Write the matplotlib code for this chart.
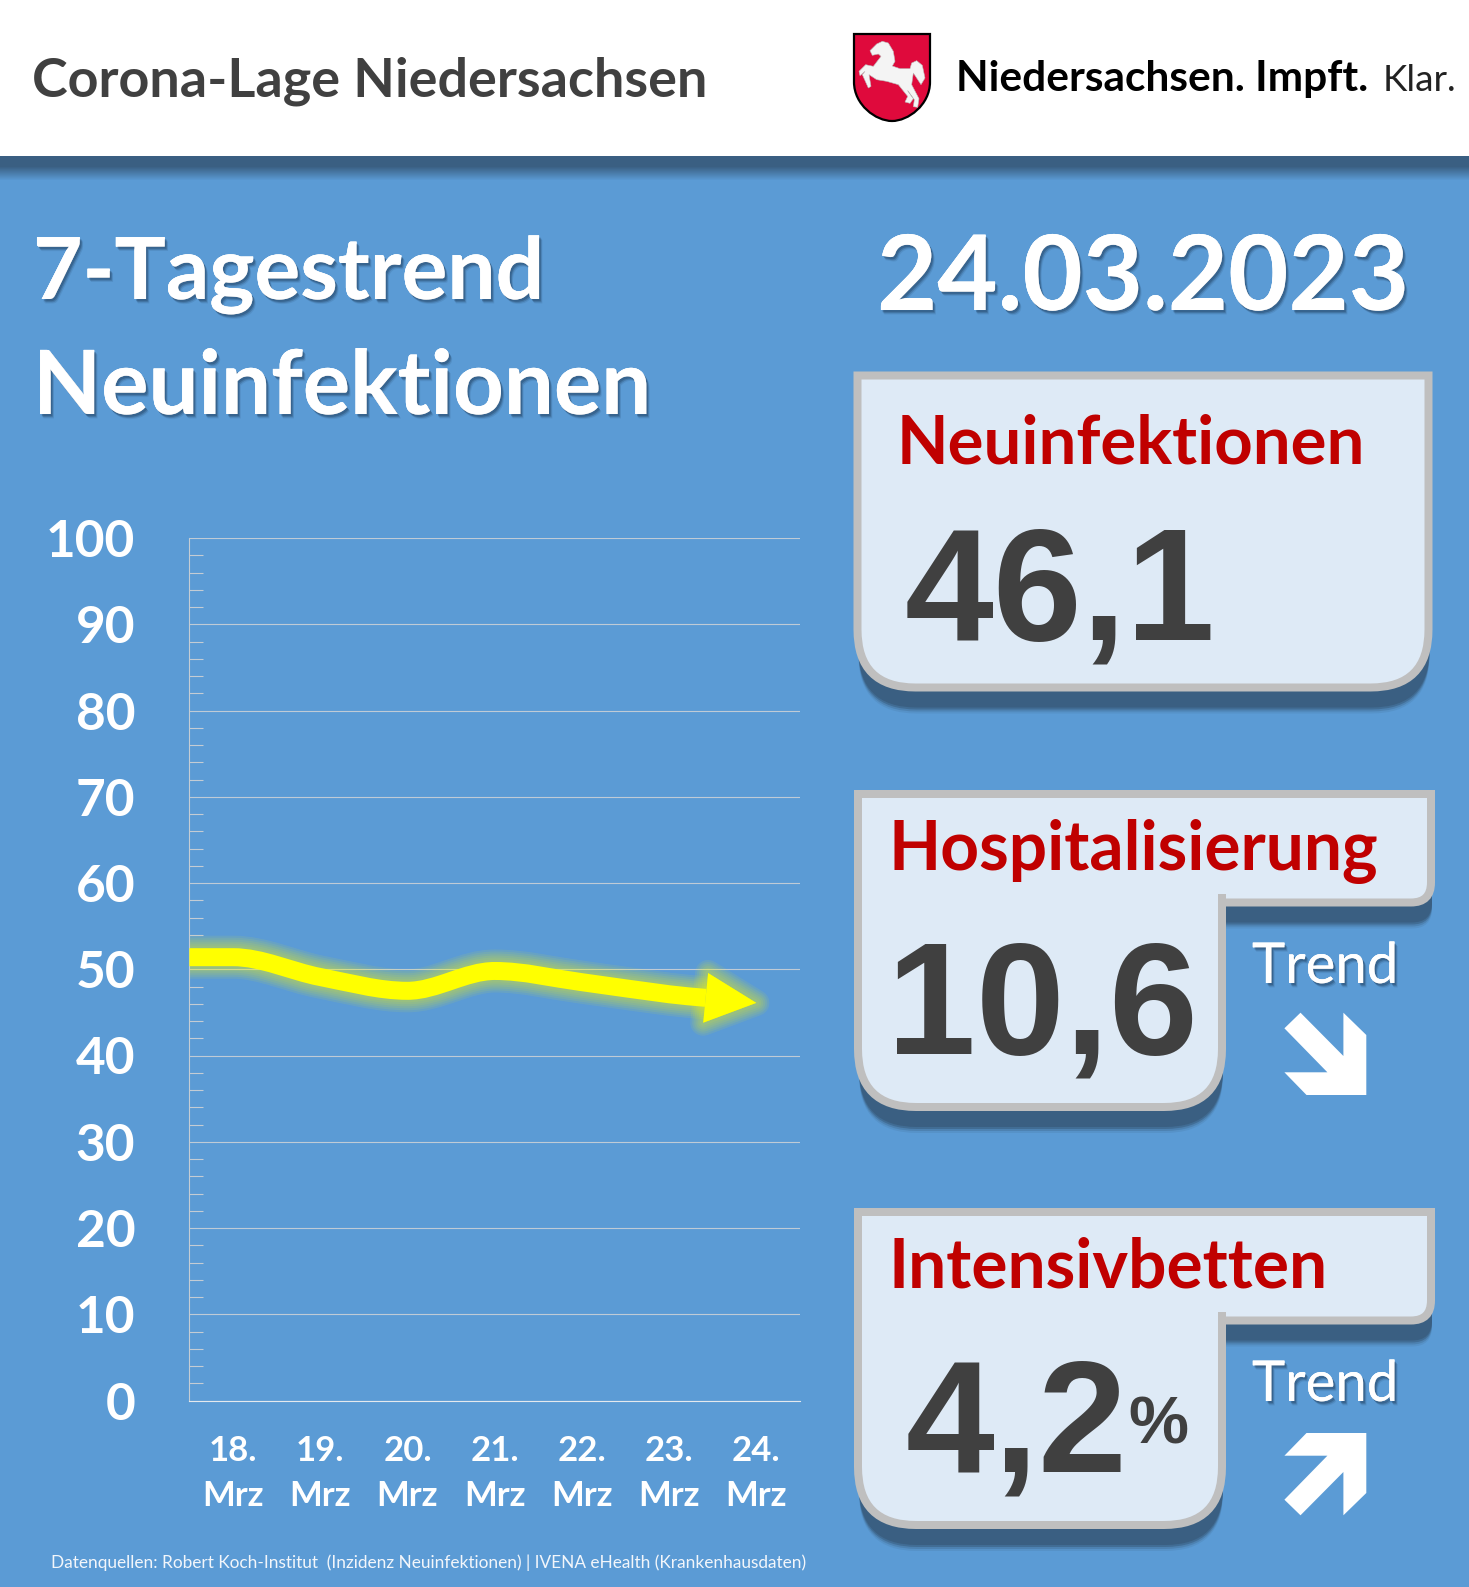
import numpy as np
import matplotlib
matplotlib.use("Agg")
import matplotlib.pyplot as plt
import matplotlib.patheffects as pe
from matplotlib.path import Path
from matplotlib.patches import PathPatch, Polygon, Rectangle
from matplotlib.ticker import MultipleLocator

W, H = 1469, 1587
BLAU = '#5B9BD5'
DUNKEL = '#3A5F82'
ROT = '#C00000'
GRAU = '#404040'
RAHMEN = '#BFBFBF'
FUELLUNG = '#DEEAF6'

# 7-Tage-Inzidenz
tage = ['18.\nMrz', '19.\nMrz', '20.\nMrz', '21.\nMrz', '22.\nMrz', '23.\nMrz', '24.\nMrz']
werte = [51.4, 49.1, 47.5, 49.8, 48.5, 47.1, 46.1]

fig = plt.figure(figsize=(W / 100, H / 100), dpi=100, facecolor=BLAU)
bg = fig.add_axes([0, 0, 1, 1], zorder=0)
bg.set_xlim(0, W)
bg.set_ylim(H, 0)
bg.axis('off')
renderer = fig.canvas.get_renderer()

schatten_fx = [pe.withSimplePatchShadow(offset=(2.4, -3.2), shadow_rgbFace='#1F3D5C', alpha=.12),
               pe.withSimplePatchShadow(offset=(1.8, -2.4), shadow_rgbFace='#1F3D5C', alpha=.25),
               pe.withSimplePatchShadow(offset=(1.2, -1.6), shadow_rgbFace='#1F3D5C', alpha=.35)]


def text(x, y, s, breite, color='white', weight='bold', family='Lato', schatten=False):
    # Schriftgroesse so waehlen, dass der Text die Breite aus der Vorlage hat
    t = bg.text(x, y, s, fontsize=40, color=color, weight=weight, family=family, va='baseline', ha='left', zorder=6)
    t.set_fontsize(40 * breite / t.get_window_extent(renderer).width)
    if schatten:
        t.set_path_effects(schatten_fx)
    return t


def kasten(l, t, r, b, rb=58, kerbe=None, ub=None, ru=20):
    if kerbe is None:
        verts = [(l, t), (r, t), (r, b - rb), (r, b), (r - rb, b), (l + rb, b), (l, b), (l, b - rb), (l, t)]
        codes = [Path.MOVETO, Path.LINETO, Path.LINETO, Path.CURVE3, Path.CURVE3, Path.LINETO,
                 Path.CURVE3, Path.CURVE3, Path.CLOSEPOLY]
    else:
        verts = [(l, t), (r, t), (r, ub - ru), (r, ub), (r - ru, ub), (kerbe, ub), (kerbe, b - rb), (kerbe, b),
                 (kerbe - rb, b), (l + rb, b), (l, b), (l, b - rb), (l, t)]
        codes = [Path.MOVETO, Path.LINETO, Path.LINETO, Path.CURVE3, Path.CURVE3, Path.LINETO, Path.LINETO,
                 Path.CURVE3, Path.CURVE3, Path.LINETO, Path.CURVE3, Path.CURVE3, Path.CLOSEPOLY]
    pfad = Path(verts, codes)
    # Schatten
    for d, a in [(26, .15), (24, .3), (22, .6), (20, 1)]:
        v = np.array(verts) + [1, d]
        bg.add_patch(PathPatch(Path(v, codes), fc=DUNKEL, ec='none', alpha=a, zorder=2))
    bg.add_patch(PathPatch(pfad, fc=FUELLUNG, ec=RAHMEN, lw=8 * .72, joinstyle='miter', zorder=3))
    if kerbe is not None:
        bg.add_patch(Rectangle((kerbe - 4, ub - 9), 8, 10, fc=RAHMEN, ec='none', zorder=4))


# Kopfzeile
bg.add_patch(Rectangle((0, 0), W, 156, fc='white', ec='none', zorder=1))
farbe = np.zeros((24, 1, 4))
farbe[..., :3] = matplotlib.colors.to_rgb(DUNKEL)
farbe[..., 3] = np.clip((24 - np.arange(24)) / 14, 0, 1).reshape(-1, 1)
bg.imshow(farbe, extent=(0, W, 180, 156), aspect='auto', zorder=1)
bg.set_xlim(0, W)
bg.set_ylim(H, 0)

text(32, 96, 'Corona-Lage Niedersachsen', 675, color=GRAU)
text(956, 91, 'Niedersachsen. Impft.', 412, color='black')
text(1383, 91, 'Klar.', 74, color='#222222', weight='normal')

# Wappen
w_code = [Path.MOVETO, Path.LINETO, Path.LINETO, Path.CURVE4, Path.CURVE4, Path.CURVE4,
          Path.CURVE4, Path.CURVE4, Path.CURVE4, Path.LINETO, Path.CLOSEPOLY]
w_vert = [(854, 34), (930, 34), (930, 82), (930, 105), (908, 121), (892, 121),
          (876, 121), (854, 105), (854, 82), (854, 34), (854, 34)]
bg.add_patch(PathPatch(Path(w_vert, w_code), fc='#DF0A3C', ec='black', lw=1.6, zorder=3))
pferd = np.array([(75, 68), (95, 48), (112, 40), (130, 45), (145, 70), (150, 100), (142, 114), (165, 122),
                  (195, 122), (200, 105), (215, 98), (232, 112), (240, 150), (228, 170), (215, 150), (205, 135),
                  (200, 170), (222, 212), (218, 238), (205, 236), (208, 215), (188, 188), (205, 212), (195, 226),
                  (180, 222), (188, 205), (160, 170), (125, 160), (95, 155), (72, 140), (78, 175), (70, 180),
                  (52, 140), (60, 130), (45, 143), (42, 130), (62, 110), (85, 115), (108, 85), (100, 78), (82, 82)])
pferd = pferd / 3 + [845, 28]
bg.add_patch(Polygon(pferd, fc='#F4F4F4', ec='#BBBBBB', lw=.4, zorder=4))

# Ueberschriften
text(33, 299, '7-Tagestrend', 511, schatten=True)
text(33, 414, 'Neuinfektionen', 618, schatten=True)
text(877, 310, '24.03.2023', 531, schatten=True)

# Kaesten rechts
kasten(857.5, 375.5, 1428.5, 687.5)
text(897, 463, 'Neuinfektionen', 468, color=ROT)
bg.text(905, 640, '46,1', fontsize=115, color=GRAU, weight='bold', family='Liberation Sans', zorder=6)

kasten(858, 794, 1431, 1107, kerbe=1222, ub=902.5)
text(889, 870, 'Hospitalisierung', 490, color=ROT)
bg.text(887, 1054, '10,6', fontsize=115, color=GRAU, weight='bold', family='Liberation Sans', zorder=6)
text(1252, 983, 'Trend', 146, weight='normal', schatten=True)

kasten(858, 1212, 1431, 1525, kerbe=1222, ub=1320.5)
text(889, 1288, 'Intensivbetten', 439, color=ROT)
bg.text(906, 1472, '4,2', fontsize=115, color=GRAU, weight='bold', family='Liberation Sans', zorder=6)
text(1128, 1443, '%', 60, color=GRAU, family='Liberation Sans')
text(1252, 1401, 'Trend', 146, weight='normal', schatten=True)

pfeil = np.array([(1284.4, 1028.3), (1300.5, 1012.7), (1343.4, 1056), (1343.4, 1012.7), (1366.3, 1035),
                  (1366.3, 1095), (1306.5, 1095), (1284.4, 1072.3), (1327.4, 1072.3)])
bg.add_patch(Polygon(pfeil, fc='white', ec='none', zorder=4))
hoch = pfeil.copy()
hoch[:, 1] = 2528 - hoch[:, 1]
bg.add_patch(Polygon(hoch, fc='white', ec='none', zorder=4))

text(51, 1568, 'Datenquellen: Robert Koch-Institut  (Inzidenz Neuinfektionen) | IVENA eHealth (Krankenhausdaten)',
     753, color='#F2F6FB', weight='normal')

# Diagramm
ax = fig.add_axes([189.4 / W, 1 - 1400.5 / H, (800 - 189.4) / W, (1400.5 - 538) / H], zorder=1)
ax.patch.set_alpha(0)
ax.set_xlim(-.5, 6.5)
ax.set_ylim(0, 100)
ax.set_xticks(range(7))
ax.set_xticklabels(tage, fontsize=25, family='Lato', weight='bold', color='white', linespacing=1.5)
ax.set_yticks(range(0, 101, 10))
ax.set_yticklabels(range(0, 101, 10), fontsize=37, family='Lato', weight='bold', color='white')
ax.yaxis.set_minor_locator(MultipleLocator(2))
ax.tick_params(axis='x', length=0, pad=25)
ax.tick_params(axis='y', which='major', length=0, pad=39)
ax.tick_params(axis='y', which='minor', direction='in', length=10.4, width=.8, color='#C4CCD4')
ax.grid(axis='y', color='#BFCBD6', lw=.8)
ax.set_axisbelow(True)
for s in ['top', 'right']:
    ax.spines[s].set_visible(False)
ax.spines['left'].set_color('#C4CCD4')
ax.spines['left'].set_linewidth(.8)
ax.spines['bottom'].set_color('#E4E9EE')
ax.spines['bottom'].set_linewidth(.8)

# geglaettete Linie mit Pfeilspitze
px_x = (800 - 189.4) / 7
px_y = (1400.5 - 538) / 100
x = [-.5] + list(range(7))
y = [werte[0]] + werte
kopf = 51
dx = (x[-1] - x[-2]) * px_x
dy = (y[-1] - y[-2]) * px_y
n = np.hypot(dx, dy)
ex, ey = dx / n, dy / n
basis = (x[-1] - ex * kopf / px_x, y[-1] - ey * kopf / px_y)
hx = x[:-1] + [basis[0]]
hy = y[:-1] + [basis[1]]


def steigung(i):
    # an Hoch- und Tiefpunkten flach, sonst zentrale Differenz
    if i == 0 or i == len(hx) - 1:
        return 0 if i == 0 else (hy[i] - hy[i - 1]) / (hx[i] - hx[i - 1])
    if (hy[i] - hy[i - 1]) * (hy[i + 1] - hy[i]) <= 0:
        return 0
    return (hy[i + 1] - hy[i - 1]) / (hx[i + 1] - hx[i - 1])


verts = [(hx[0], hy[0])]
codes = [Path.MOVETO]
for i in range(len(hx) - 1):
    h = (hx[i + 1] - hx[i]) / 3
    verts += [(hx[i] + h, hy[i] + steigung(i) * h),
              (hx[i + 1] - h, hy[i + 1] - steigung(i + 1) * h),
              (hx[i + 1], hy[i + 1])]
    codes += [Path.CURVE4] * 3
linie = Path(verts, codes)
breite_kopf = 25
ecken = [(x[-1], y[-1]),
         (basis[0] - ey * breite_kopf / px_x, basis[1] + ex * breite_kopf / px_y),
         (basis[0] + ey * breite_kopf / px_x, basis[1] - ex * breite_kopf / px_y)]
for g in [13, 11, 9, 7, 5, 3]:
    ax.add_patch(PathPatch(linie, fc='none', ec='yellow', alpha=.08, lw=(17 + 2 * g) * .72, capstyle='butt'))
    ax.add_patch(Polygon(ecken, fc='yellow', ec='yellow', alpha=.08, lw=2 * g * .72, joinstyle='round'))
ax.add_patch(PathPatch(linie, fc='none', ec='yellow', lw=18 * .72, capstyle='butt', zorder=4))
ax.add_patch(Polygon(ecken, fc='yellow', ec='none', zorder=4))

fig.savefig('out.png', dpi=100, facecolor=BLAU)
